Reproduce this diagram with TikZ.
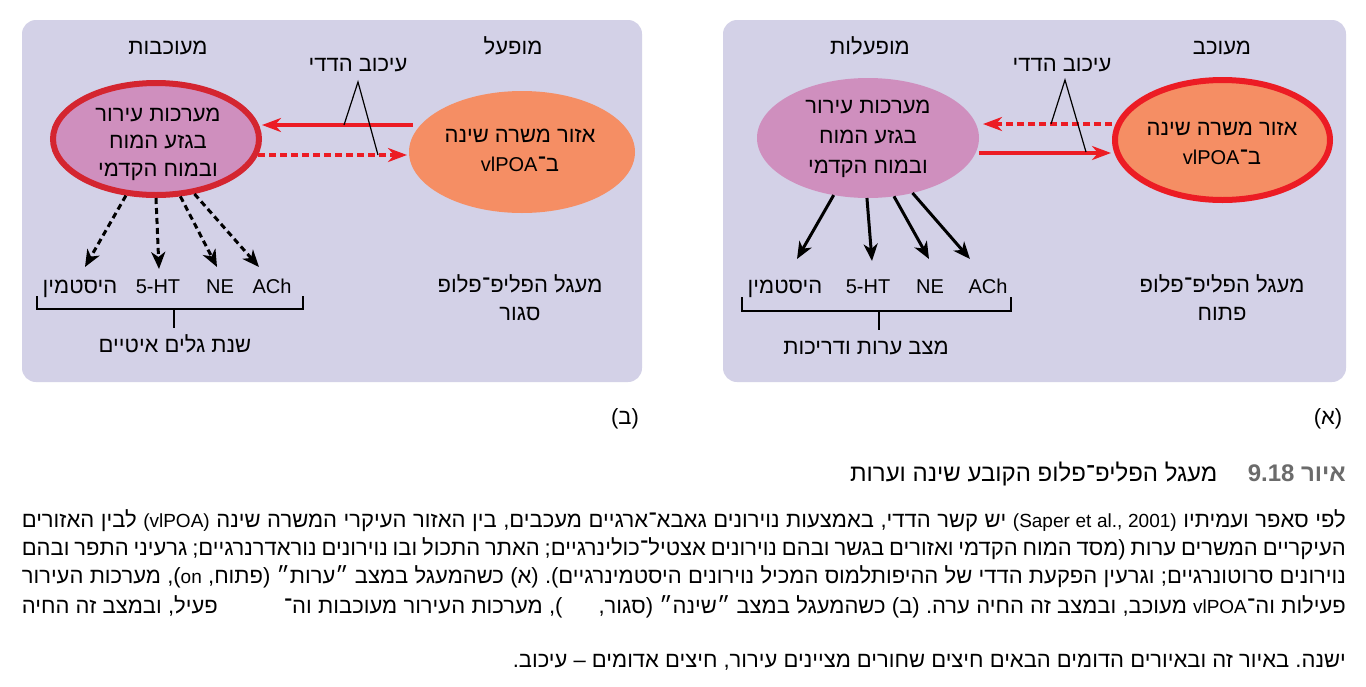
\documentclass[tikz,border=0pt]{standalone}
\usepackage{fontspec}
\setmainfont{Liberation Sans}
\newfontfamily\heb[Script=Hebrew]{Liberation Sans}
\newfontfamily\latn[Script=Latin]{Liberation Sans}
\TeXXeTstate=1
\frenchspacing
\usetikzlibrary{arrows.meta,shapes.geometric}
\newcommand{\myR}[1]{\beginR#1\endR}
\newcommand{\myL}[1]{\beginL{\latn\fontsize{20}{24}\selectfont#1}\endL}
\newcommand{\myLc}[1]{\beginL{\latn\fontsize{19}{24}\selectfont#1}\endL}
\definecolor{panelc}{HTML}{D3D1E7}
\definecolor{pinkf}{HTML}{CF8FBE}
\definecolor{orangef}{HTML}{F58E64}
\definecolor{redl}{HTML}{EC1C24}
\definecolor{redd}{HTML}{D42530}
\definecolor{capgray}{HTML}{6B6B6B}
\tikzset{
  lbl/.style={font=\heb\fontsize{22}{26}\selectfont, inner sep=0pt, anchor=base},
  latlbl/.style={font=\latn\fontsize{20}{24}\selectfont, inner sep=0pt, anchor=base},
  ell/.style={ellipse, inner sep=0pt, outer sep=0pt},
  etext/.style={font=\heb\fontsize{22}{26}\selectfont, inner sep=0pt, anchor=base},
  redarr/.style={draw=redl, line width=3.5pt, -{Stealth[length=19pt,width=14pt,inset=6pt]}},
  blkarr/.style={draw=black, line width=3pt, -{Stealth[length=17pt,width=14pt,inset=5pt]}},
  dsh/.style={dash pattern=on 7pt off 4pt},
  callout/.style={draw=black, line width=1.2pt},
  brk/.style={draw=black, line width=1.4pt},
  captxt/.style={font=\heb\fontsize{22}{26}\selectfont, inner sep=0pt, anchor=base east},
  captitle/.style={font=\heb\fontsize{24}{28}\selectfont, inner sep=0pt, anchor=base east},
}
\begin{document}
\begin{tikzpicture}[x=1pt,y=-1pt]
\useasboundingbox (0,0) rectangle (1366,686);
\fill[white] (0,0) rectangle (1366,686);
% panels
\fill[panelc, rounded corners=14pt] (723,20) rectangle (1346,382);
\fill[panelc, rounded corners=14pt] (22,20) rectangle (642,382);

% ===== Panel A (right) =====
\node[ell, fill=pinkf, minimum width=222pt, minimum height=120pt] (pa) at (868,138) {};
\node[ell, fill=orangef, draw=redl, line width=6pt, minimum width=215pt, minimum height=120pt, outer sep=3pt] (oa) at (1222.5,140) {};
\node[etext] (pa1) at (868,113) {\myR{מערכות עירור}};
\node[etext] (pa2) at (868,143) {\myR{בגזע המוח}};
\node[etext] (pa3) at (868,173) {\myR{ובמוח הקדמי}};
\node[etext] (oa1) at (1222,135) {\myR{אזור משרה שינה}};
\node[etext] (oa2) at (1222,164) {\myR{ב־\myL{vlPOA}}};

\coordinate (ya1) at (0,124);
\coordinate (ya2) at (0,153);
\draw[redarr, dsh] (oa.west |- ya1) -- ([xshift=4pt]pa.east |- ya1);
\draw[redarr, shorten >=1pt] (pa.east |- ya2) -- (oa.west |- ya2);

\node[lbl] (ta) at (870,54) {\myR{מופעלות}};
\node[lbl] (tb) at (1222,54) {\myR{מעוכב}};
\node[lbl] (ia) at (1062,71) {\myR{עיכוב הדדי}};
\coordinate (apA) at (1065,80);
\coordinate (lA) at (1051,124);
\coordinate (rA) at (1086,152);
\draw[callout] (lA) -- (apA) -- (rA);

\coordinate (tA1) at (797,259);
\coordinate (tA2) at (872,261);
\coordinate (tA3) at (929,259);
\coordinate (tA4) at (970,259);
\draw[blkarr] (pa.-121.6) -- (tA1);
\draw[blkarr] (pa.-91) -- (tA2);
\draw[blkarr] (pa.-66.2) -- (tA3);
\draw[blkarr] (pa.-51.8) -- (tA4);

\node[lbl] (nA1) at (785,293) {\myR{היסטמין}};
\node[latlbl] (nA2) at (868,293) {5-HT};
\node[latlbl] (nA3) at (930,293) {NE};
\node[latlbl] (nA4) at (988,293) {ACh};
\draw[brk] (742,297) -- (742,311) -- (1011,311) -- (1011,297);
\draw[brk] (879,311) -- (879,330);
\node[lbl] (sA) at (866,354) {\myR{מצב ערות ודריכות}};
\node[lbl] (fA1) at (1222,292) {\myR{מעגל הפליפ־פלופ}};
\node[lbl] (fA2) at (1222,320) {\myR{פתוח}};
\node[lbl] (la) at (1328,424) {\myR{(א)}};

% ===== Panel B (left) =====
\node[ell, fill=pinkf, draw=redd, line width=6pt, minimum width=206pt, minimum height=112pt, outer sep=3pt] (pb) at (156,139) {};
\node[ell, fill=orangef, minimum width=226pt, minimum height=122pt] (ob) at (522,152) {};
\node[etext] (pb1) at (158,121) {\myR{מערכות עירור}};
\node[etext] (pb2) at (158,148) {\myR{בגזע המוח}};
\node[etext] (pb3) at (158,176) {\myR{ובמוח הקדמי}};
\node[etext] (ob1) at (520,142) {\myR{אזור משרה שינה}};
\node[etext] (ob2) at (520,171) {\myR{ב־\myL{vlPOA}}};

\coordinate (yb1) at (0,125);
\coordinate (yb2) at (0,155);
\draw[redarr] ([xshift=4pt]ob.west |- yb1) -- (pb.east |- yb1);
\draw[redarr, dsh] ([xshift=-4pt]pb.east |- yb2) -- ([xshift=-2pt]ob.west |- yb2);

\node[lbl] (tc) at (168,54) {\myR{מעוכבות}};
\node[lbl] (td) at (513,54) {\myR{מופעל}};
\node[lbl] (ib) at (358,71) {\myR{עיכוב הדדי}};
\coordinate (apB) at (358,82);
\coordinate (lB) at (344,125);
\coordinate (rB) at (378,155);
\draw[callout] (lB) -- (apB) -- (rB);

\coordinate (tB1) at (85,267);
\coordinate (tB2) at (159,269);
\coordinate (tB3) at (217,267);
\coordinate (tB4) at (259,267);
\draw[blkarr, dash pattern=on 6pt off 4pt] (pb.-118) -- (tB1);
\draw[blkarr, dash pattern=on 6pt off 4pt] (pb.-90) -- (tB2);
\draw[blkarr, dash pattern=on 6pt off 4pt] (pb.-67) -- (tB3);
\draw[blkarr, dash pattern=on 6pt off 4pt] (pb.-55) -- (tB4);

\node[lbl] (nB1) at (80,293) {\myR{היסטמין}};
\node[latlbl] (nB2) at (158,293) {5-HT};
\node[latlbl] (nB3) at (220,293) {NE};
\node[latlbl] (nB4) at (272,293) {ACh};
\draw[brk] (37,296) -- (37,309) -- (303,309) -- (303,296);
\draw[brk] (174,309) -- (174,328);
\node[lbl] (sB) at (175,352) {\myR{שנת גלים איטיים}};
\node[lbl] (fB1) at (520,292) {\myR{מעגל הפליפ־פלופ}};
\node[lbl] (fB2) at (520,320) {\myR{סגור}};
\node[lbl] (lb) at (625,424) {\myR{(ב)}};

% ===== Caption =====
\node[captitle, text=capgray] (cap0a) at (1346,481) {\bfseries\myR{איור 9.18}};
\node[captitle] (cap0b) at ([xshift=-30pt]cap0a.base west) {\myR{מעגל הפליפ־פלופ הקובע שינה וערות}};
\node[captxt] (cap1) at (1346,527) {\hbox to 1324pt{\myR{לפי סאפר ועמיתיו \myLc{(Saper et al., 2001)} יש קשר הדדי, באמצעות נוירונים גאבא־ארגיים מעכבים, בין האזור העיקרי המשרה שינה \myLc{(vlPOA)} לבין האזורים}}};
\node[captxt] (cap2) at (1346,555) {\hbox to 1324pt{\myR{העיקריים המשרים ערות (מסד המוח הקדמי ואזורים בגשר ובהם נוירונים אצטיל־כולינרגיים; האתר התכול ובו נוירונים נוראדרנרגיים; גרעיני התפר ובהם}}};
\node[captxt] (cap3) at (1346,583) {\hbox to 1324pt{\myR{נוירונים סרוטונרגיים; וגרעין הפקעת הדדי של ההיפותלמוס המכיל נוירונים היסטמינרגיים). (א) כשהמעגל במצב ״ערות״ (פתוח, \myLc{on}), מערכות העירור}}};
\node[captxt] (cap4) at (1346,613) {\hbox to 1324pt{\myR{פעילות וה־\myLc{vlPOA} מעוכב, ובמצב זה החיה ערה. (ב) כשהמעגל במצב ״שינה״ (סגור,\hspace{36pt}), מערכות העירור מעוכבות וה־\hspace{66pt}פעיל, ובמצב זה החיה}}};
\node[captxt] (cap5) at (1346,667) {\myR{ישנה. באיור זה ובאיורים הדומים הבאים חיצים שחורים מציינים עירור, חיצים אדומים – עיכוב.}};
\end{tikzpicture}
\end{document}
